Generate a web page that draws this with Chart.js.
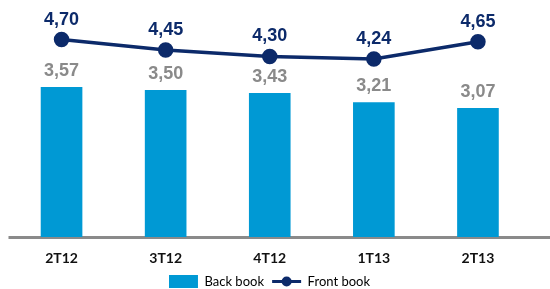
<!DOCTYPE html>
<html lang="pt">
<head>
<meta charset="UTF-8">
<title>Back book / Front book</title>
<script src="https://cdn.jsdelivr.net/npm/chart.js"></script>
<style>
  html, body { margin: 0; padding: 0; background: #fff; overflow: hidden; }
  #wrap { width: 550px; height: 289px; overflow: hidden; }
</style>
</head>
<body>
<div id="wrap"><canvas id="grafico" width="550" height="298"></canvas></div>
<script>
const trimestres = ['2T12', '3T12', '4T12', '1T13', '2T13'];
const backBook = [3.57, 3.50, 3.43, 3.21, 3.07];
const frontBook = [4.70, 4.45, 4.30, 4.24, 4.65];

const azul = '#0099d4';
const marinho = '#0c2a6a';
const cinza = '#8a8a8a';

function fmt(v) {
  return v.toFixed(2).replace('.', ',');
}

// rótulos de valor acima das barras e dos pontos
const rotulos = {
  id: 'rotulos',
  afterDatasetsDraw(chart) {
    const ctx = chart.ctx;
    ctx.save();
    ctx.font = 'bold 18px "Liberation Sans", Arial, sans-serif';
    ctx.textAlign = 'center';
    ctx.textBaseline = 'middle';
    chart.data.datasets.forEach((ds, i) => {
      const meta = chart.getDatasetMeta(i);
      meta.data.forEach((el, j) => {
        if (ds.type === 'bar') {
          ctx.fillStyle = cinza;
          ctx.fillText(fmt(ds.data[j]), el.x, el.y - 16);
        } else {
          ctx.fillStyle = marinho;
          ctx.fillText(fmt(ds.data[j]), el.x, el.y - 20);
        }
      });
    });
    ctx.restore();
  }
};

// linha do eixo x, um pouco mais larga que a área do gráfico
const eixo = {
  id: 'eixo',
  beforeDatasetsDraw(chart) {
    const ctx = chart.ctx;
    const a = chart.chartArea;
    ctx.save();
    ctx.strokeStyle = cinza;
    ctx.lineWidth = 3;
    ctx.beginPath();
    ctx.moveTo(a.left - 1, a.bottom + 0.5);
    ctx.lineTo(chart.width, a.bottom + 0.5);
    ctx.stroke();
    ctx.restore();
  }
};

// marcador da série de linha na legenda (linha + bolinha)
const legendaLinha = {
  id: 'legendaLinha',
  afterDraw(chart) {
    const boxes = chart.legend.legendHitBoxes;
    if (!boxes || boxes.length < 2) return;
    const b = boxes[1];
    const bw = chart.options.plugins.legend.labels.boxWidth;
    const cy = b.top + b.height / 2;
    const ctx = chart.ctx;
    ctx.save();
    ctx.strokeStyle = marinho;
    ctx.fillStyle = marinho;
    ctx.lineWidth = 3;
    ctx.beginPath();
    ctx.moveTo(b.left, cy);
    ctx.lineTo(b.left + bw, cy);
    ctx.stroke();
    ctx.beginPath();
    ctx.arc(b.left + bw / 2, cy, 5, 0, Math.PI * 2);
    ctx.fill();
    ctx.restore();
  }
};

new Chart(document.getElementById('grafico'), {
  data: {
    labels: trimestres,
    datasets: [
      {
        type: 'bar',
        label: 'Back book',
        data: backBook,
        backgroundColor: azul,
        categoryPercentage: 1,
        barPercentage: 0.4,
        order: 2
      },
      {
        type: 'line',
        label: 'Front book',
        data: frontBook,
        borderColor: marinho,
        backgroundColor: marinho,
        borderWidth: 3.5,
        pointRadius: 6,
        pointBackgroundColor: marinho,
        tension: 0,
        order: 1
      }
    ]
  },
  options: {
    responsive: false,
    animation: false,
    layout: { padding: { left: 9, right: 20, top: 27, bottom: 0 } },
    scales: {
      x: {
        grid: { display: false, drawTicks: false },
        border: { display: false },
        afterFit(scale) {
          scale.height = 38;
        },
        ticks: {
          padding: 14,
          color: '#111',
          font: { family: 'Lato', weight: 'bold', size: 14, lineHeight: 1 }
        }
      },
      y: {
        display: false,
        min: 0,
        max: 5
      }
    },
    plugins: {
      tooltip: { enabled: false },
      legend: {
        position: 'bottom',
        labels: {
          boxWidth: 29,
          boxHeight: 13,
          padding: 0,
          color: '#111',
          font: { family: 'Lato', size: 13, lineHeight: 1 },
          generateLabels(chart) {
            return chart.data.datasets.map((ds, i) => ({
              text: i === 0 ? ds.label + '\u2002\u2009' : ds.label,
              datasetIndex: i,
              fillStyle: ds.type === 'bar' ? azul : 'rgba(0,0,0,0)',
              strokeStyle: 'rgba(0,0,0,0)',
              lineWidth: 0,
              hidden: false
            }));
          }
        }
      }
    }
  },
  plugins: [eixo, rotulos, legendaLinha]
});
</script>
</body>
</html>
